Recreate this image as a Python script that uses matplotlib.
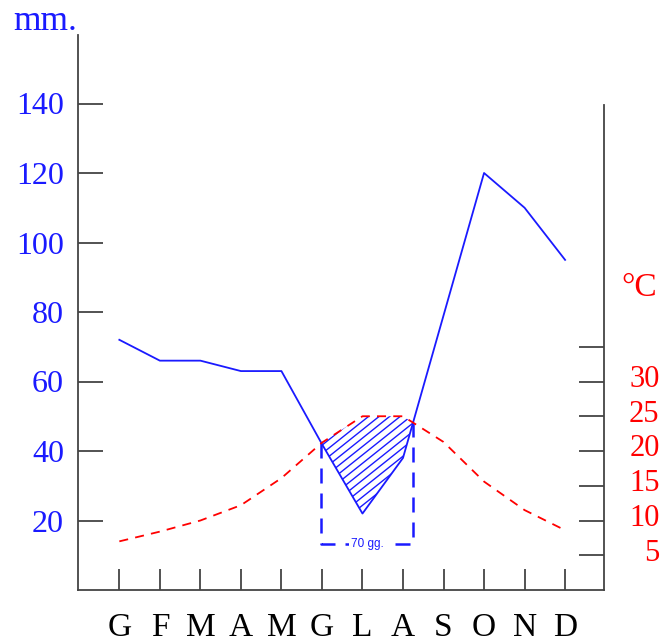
import numpy as np
import matplotlib
matplotlib.use("Agg")
import matplotlib.pyplot as plt
from matplotlib.patches import PathPatch
from matplotlib.transforms import ScaledTranslation

plt.rcParams['font.family'] = ['Liberation Serif', 'DejaVu Serif']

# mesi (iniziali italiane)
mesi = ['G', 'F', 'M', 'A', 'M', 'G', 'L', 'A', 'S', 'O', 'N', 'D']
# precipitazioni mm
prec = np.array([72, 66, 66, 63, 63, 42, 22, 38, 79, 120, 110, 95])
# temperature medie °C
temp = np.array([7, 8.4, 10, 12.2, 16.1, 21.2, 25, 25, 21.3, 15.6, 11.5, 8.6])
prec_ticks = [20, 40, 60, 80, 100, 120, 140]
temp_ticks = [5, 10, 15, 20, 25, 30, 35]
temp_labels = ['5', '10', '15', '20', '25', '30', '']
giorni_secchi = '70 gg.'

BLU = '#1a1aff'
ROSSO = '#ff0000'
GRIGIO = '#444444'

x = np.arange(len(mesi))

fig = plt.figure(figsize=(6.61, 6.43), dpi=100)
ax = fig.add_axes([78 / 661, 53 / 643, 526 / 661, 555 / 643])
ymax = 555 / 3.475
ax.set_xlim(-1.02, 11.96)
ax.set_ylim(0, ymax)
ax2 = ax.twinx()
ax2.set_ylim(0, ymax / 2)

for s in ['top', 'right']:
    ax.spines[s].set_visible(False)
for s in ['top', 'left', 'bottom']:
    ax2.spines[s].set_visible(False)
ax2.spines['right'].set_bounds(0, 485 / 6.95)
for a in (ax, ax2):
    for s in a.spines.values():
        s.set_color(GRIGIO)
        s.set_linewidth(1.3)

# curve
ax.plot(x, prec, color=BLU, lw=1.3, zorder=3)
ax.plot(x, 2 * temp, color=ROSSO, lw=1.3, dashes=(5, 4), zorder=3)

# periodo secco (prec < 2T): tratteggio a mano, ritagliato sull'area
area = ax.fill_between(x, prec, 2 * temp, where=prec < 2 * temp,
                       interpolate=True, facecolor='none', edgecolor='none')
clip = PathPatch(area.get_paths()[0], transform=ax.transData,
                 facecolor='none', edgecolor='none')
ax.add_patch(clip)
pend = 9.3      # mm per mese (circa 39 gradi a schermo)
passo = 0.26    # mesi
for c in np.arange(0.0, 8.0, passo):
    xs = np.array([c, c + 8])
    ln, = ax.plot(xs, pend * (xs - c), color=BLU, lw=1.0, zorder=2)
    ln.set_clip_path(clip)

d = prec - 2 * temp
cross = []
for i in range(len(d) - 1):
    if np.sign(d[i]) != np.sign(d[i + 1]):
        cross.append(i + d[i] / (d[i] - d[i + 1]))
x0, x1 = cross[0], cross[1]
p0 = np.interp(x0, x, prec)
p1 = np.interp(x1, x, prec)
yb = 13.2
ax.plot([x0, x0, x1, x1], [p0, yb, yb, p1], color=BLU, lw=1.8,
        dashes=(6, 4), zorder=2)
ax.text((x0 + x1) / 2, yb, giorni_secchi, ha='center', va='center',
        fontsize=8.5, color=BLU, family='Liberation Sans',
        bbox=dict(facecolor='white', edgecolor='none', pad=1.5), zorder=4)

# assi
ax.set_xticks(x)
ax.set_xticklabels(mesi)
ax.tick_params(axis='x', direction='in', length=15, width=1.3, color=GRIGIO,
               labelsize=24, pad=16.5)
ax.set_yticks(prec_ticks)
ax.tick_params(axis='y', direction='in', length=18, width=1.3, color=GRIGIO,
               labelsize=23, labelcolor=BLU, pad=10)
ax2.set_yticks(temp_ticks)
ax2.set_yticklabels(temp_labels, ha='right')
ax2.tick_params(axis='y', direction='in', length=18, width=1.3, color=GRIGIO,
                labelsize=22, labelcolor=ROSSO, pad=40)
su = ScaledTranslation(0, 4 / 72, fig.dpi_scale_trans)
for lab in ax2.get_yticklabels():
    lab.set_transform(lab.get_transform() + su)

fig.text(13 / 661, 1 - 22 / 643, 'mm.', fontsize=25.5, color=BLU, va='center')
fig.text(621 / 661, 1 - 288 / 643, '°C', fontsize=24, color=ROSSO, va='center')

fig.savefig('out.png', dpi=100)
